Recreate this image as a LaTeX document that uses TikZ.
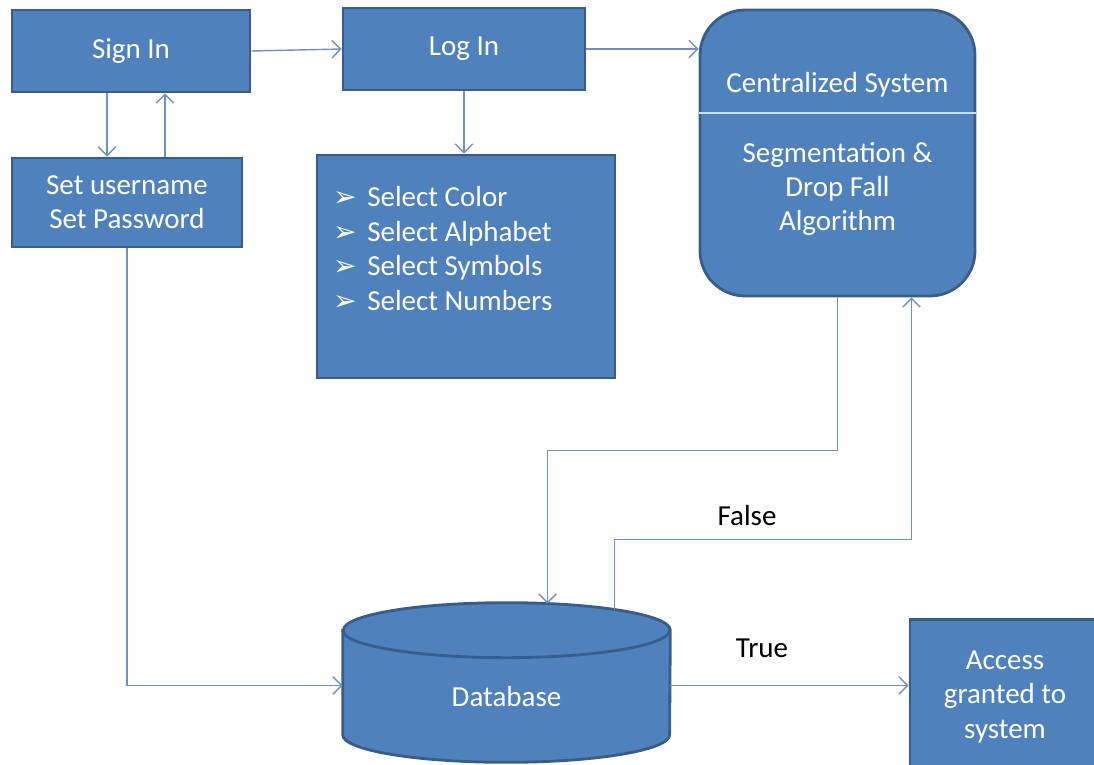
\documentclass[tikz,border=0pt]{standalone}
\usepackage{fontspec}
\setmainfont{Carlito}
\newfontfamily\symfont{DejaVu Sans}
\usetikzlibrary{arrows.meta,calc}
\definecolor{boxblue}{RGB}{79,129,189}
\definecolor{boxedge}{RGB}{56,93,138}
\definecolor{linkblue}{RGB}{110,146,192}
\definecolor{divider}{RGB}{205,220,238}
\newcommand{\pick}{{\symfont\fontsize{16}{16}\selectfont ➢}\hspace{6pt}}

\begin{document}
\begin{tikzpicture}[x=0.02cm,y=-0.02cm,
  box/.style={rectangle,draw=boxedge,line width=1.6pt,fill=boxblue,text=white,align=center,font=\fontsize{16.5}{19.5}\selectfont},
  dbbody/.style={draw=boxedge,line width=1.6pt,fill=boxblue},
  link/.style={draw=linkblue,line width=0.8pt,-{Straight Barb[length=5pt,width=10pt]}},
  lbl/.style={font=\fontsize{16.5}{19.5}\selectfont,text=black}]
\useasboundingbox (0,0) rectangle (1094,764);
\clip (0,0) rectangle (1094,764);
%\draw[help lines,step=50] (0,0) grid (1094,764);
\path (0,0)
(131,51) node(signin) [box,minimum width=4.76cm,minimum height=1.64cm] {Sign In}
(127,202.5) node(setpw) [box,minimum width=4.6cm,minimum height=1.78cm] {Set username\\Set Password}
(464,49) node(login) [box,minimum width=4.84cm,minimum height=1.64cm] {Log In}
(466,266.5) node(select) [box,minimum width=5.96cm,minimum height=4.46cm] {}
(837.5,153) node(central) [box,rounded corners=0.9cm,minimum width=5.5cm,minimum height=5.72cm] {}
(506.5,682.5) node(db) [rectangle,inner sep=0pt,minimum width=6.54cm,minimum height=3.18cm] {}
(1005,697) node(access) [box,minimum width=3.8cm,minimum height=3.1cm] {Access\\granted to\\system};
\draw[dbbody] ($(db.north west)+(0,27.5)$) -- ($(db.south west)+(0,-27.5)$)
  arc[start angle=180,end angle=360,x radius=3.27cm,y radius=0.55cm]
  -- ($(db.north east)+(0,27.5)$)
  arc[start angle=0,end angle=180,x radius=3.27cm,y radius=0.55cm] -- cycle;
\draw[dbbody,fill=none] ($(db.north west)+(0,27.5)$) arc[start angle=180,end angle=360,x radius=3.27cm,y radius=0.55cm];
\node[text=white,font=\fontsize{16.5}{19.5}\selectfont] (dbname) at (506.5,697) {Database};
\node[anchor=north west,text=white,align=left,font=\fontsize{16.5}{19.8}\selectfont] (picklist) at (327,180)
  {\pick Select Color\\\pick Select Alphabet\\\pick Select Symbols\\\pick Select Numbers};
\node[text=white,font=\fontsize{16.5}{19.5}\selectfont] (cstitle) at (837.5,85) {Centralized System};
\node[text=white,align=center,font=\fontsize{16.5}{19.5}\selectfont] (csalgo) at (837.5,189) {Segmentation \&\\Drop Fall\\Algorithm};
\draw[divider,line width=1pt] (central.west |- 0,113) -- (central.east |- 0,113);
\node[lbl] (lfalse) at (747,516) {False};
\node[lbl] (ltrue) at (762,648) {True};
\draw[link] (signin.east) -- (login.west);
\draw[link] ($(signin.south)+(-24,0)$) -- ($(setpw.north)+(-20,0)$);
\draw[link] ($(setpw.north)+(38,0)$) -- ($(signin.south)+(34,0)$);
\draw[link] (login.south) -- (login.south |- select.north);
\draw[link] (login.east) -- (login.east -| central.west);
\draw[link] (setpw.south) |- ($(db.west)+(0,3)$);
\draw[link] (central.south) -- ++(0,153) -| ($(db.north)+(41,1)$);
\draw[link] ($(db.north)+(108,7)$) -- ++(0,-70) -| ($(central.south)+(74,0)$);
\draw[link] ($(db.east)+(0,3)$) -- (access.west |- {$(db.east)+(0,3)$});
\end{tikzpicture}
\end{document}
